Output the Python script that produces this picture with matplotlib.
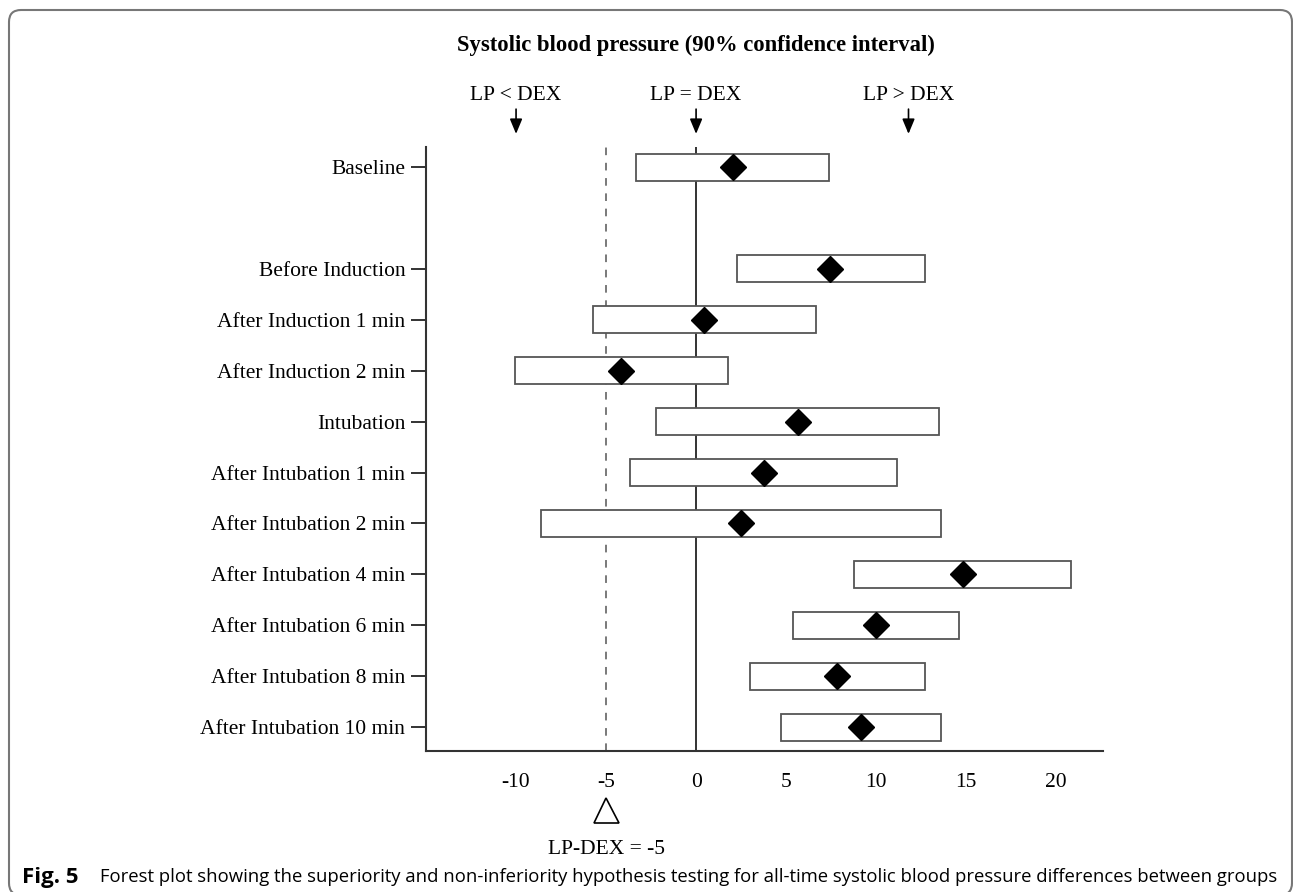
import matplotlib
matplotlib.use("Agg")
import matplotlib.pyplot as plt
from matplotlib.patches import FancyBboxPatch
from matplotlib.transforms import IdentityTransform

labels = [
    "Baseline",
    "Before Induction",
    "After Induction 1 min",
    "After Induction 2 min",
    "Intubation",
    "After Intubation 1 min",
    "After Intubation 2 min",
    "After Intubation 4 min",
    "After Intubation 6 min",
    "After Intubation 8 min",
    "After Intubation 10 min",
]
rows = [11, 9, 8, 7, 6, 5, 4, 3, 2, 1, 0]
lower = [-3.35, 2.25, -5.7, -10.05, -2.2, -3.65, -8.6, 8.75, 5.4, 3.0, 4.7]
upper = [7.4, 12.7, 6.65, 1.8, 13.5, 11.15, 13.6, 20.85, 14.6, 12.7, 13.6]
estimate = [2.05, 7.45, 0.45, -4.15, 5.65, 3.8, 2.5, 14.8, 10.0, 7.85, 9.15]

xticks = [-10, -5, 0, 5, 10, 15, 20]
margin = -5
arrow_x = [-10, 0, 11.8]
arrow_text = ["LP < DEX", "LP = DEX", "LP > DEX"]

SERIF = "Liberation Serif"
FS = 15.5

fig = plt.figure(figsize=(12.93, 8.92), dpi=100, facecolor="white")
ax = fig.add_axes([0.3295, 0.158, 0.5235, 0.677])

ax.axvline(0, color="#333333", lw=1.4, zorder=1)
ax.axvline(margin, color="#555555", lw=1.1, ls=(0, (5, 5)), zorder=1)

widths = [u - l for l, u in zip(lower, upper)]
ax.barh(rows, widths, left=lower, height=0.53, color="white",
        edgecolor="#555555", linewidth=1.3, zorder=2)
ax.plot(estimate, rows, "D", color="black", markersize=13.5, ls="none", zorder=3)

ax.set_xlim(-15.0, 22.6)
ax.set_ylim(-0.47, 11.39)
ax.set_xticks(xticks)
ax.set_xticklabels([str(t) for t in xticks], fontfamily=SERIF, fontsize=FS)
ax.set_yticks(rows)
ax.set_yticklabels(labels, fontfamily=SERIF, fontsize=FS)
ax.tick_params(axis="x", length=0, pad=16)
ax.tick_params(axis="y", length=11, width=1.4, color="#333333", pad=4)

for s in ["top", "right"]:
    ax.spines[s].set_visible(False)
for s in ["left", "bottom"]:
    ax.spines[s].set_color("#333333")
    ax.spines[s].set_linewidth(1.5)

tr = ax.get_xaxis_transform()
ax.text(0, 1.169, "Systolic blood pressure (90% confidence interval)",
        transform=tr, ha="center", va="center", fontfamily=SERIF,
        fontsize=16.3, fontweight="bold")
for x, t in zip(arrow_x, arrow_text):
    ax.text(x, 1.085, t, transform=tr, ha="center", va="center",
            fontfamily=SERIF, fontsize=FS)
    ax.annotate("", xy=(x, 1.022), xytext=(x, 1.063), xycoords=tr, textcoords=tr,
                arrowprops=dict(arrowstyle="-|>,head_length=0.6,head_width=0.25",
                                color="black", lw=1.2, mutation_scale=15,
                                shrinkA=0, shrinkB=0),
                annotation_clip=False)

ax.plot([margin], [-0.098], marker="^", markersize=18, markerfacecolor="white",
        markeredgecolor="black", markeredgewidth=1.2, transform=tr, clip_on=False)
ax.text(margin, -0.163, "LP-DEX = -5", transform=tr, ha="center", va="center",
        fontfamily=SERIF, fontsize=FS)

# outer rounded frame
frame = FancyBboxPatch((9, -3), 1283, 885, boxstyle="round,pad=0,rounding_size=12",
                       transform=IdentityTransform(), facecolor="none",
                       edgecolor="#777777", linewidth=1.5)
fig.add_artist(frame)

# caption
cap_y = 1 - 877 / 892
fig.text(22 / 1293, cap_y, "Fig. 5", fontfamily="Open Sans",
         fontweight="bold", fontsize=16, va="center", ha="left")
cap = fig.text(100 / 1293, cap_y,
               "Forest plot showing the superiority and non-inferiority hypothesis "
               "testing for all-time systolic blood pressure differences between groups",
               fontfamily="Open Sans", fontsize=13, va="center", ha="left")
fig.canvas.draw()
w = cap.get_window_extent().width
cap.set_fontsize(13 * (1272 - 100) / w)

fig.savefig("out.png", dpi=100, facecolor="white")
